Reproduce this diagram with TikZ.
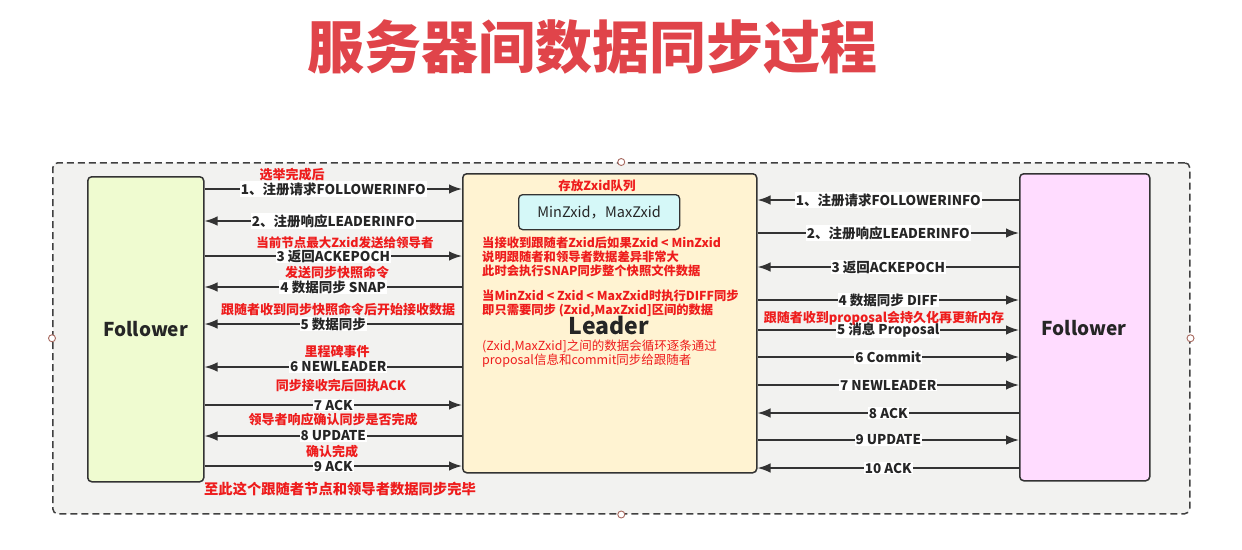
\documentclass[tikz,border=0pt]{standalone}
\usepackage{fontspec}
\setmainfont{Noto Sans CJK SC}
\usetikzlibrary{arrows.meta}
\definecolor{redc}{HTML}{EE1C1C}
\definecolor{titlec}{HTML}{E0444A}
\definecolor{outerfill}{HTML}{F2F2F0}
\definecolor{lfill}{HTML}{EFFBD0}
\definecolor{rfill}{HTML}{FFDCFF}
\definecolor{ldfill}{HTML}{FFF3D2}
\definecolor{cyanfill}{HTML}{D5F8F8}
\definecolor{linec}{HTML}{333333}
\definecolor{dotc}{HTML}{A86A60}
\begin{document}
\begin{tikzpicture}[x=1pt,y=-1pt,
  box/.style={draw=linec, line width=1.5pt, rounded corners=4pt, inner sep=0pt},
  arr/.style={draw=linec, line width=1.6pt, -{Latex[length=13pt,width=9.5pt]}},
  lbl/.style={fill=white, inner sep=1pt, text=black!85, font=\fontsize{13.5}{15}\selectfont\bfseries},
  rtxt/.style={text=redc, inner sep=0pt, font=\fontsize{13}{14}\selectfont\bfseries},
  dot/.style={circle, draw=dotc, fill=white, line width=0.9pt, inner sep=0pt, minimum size=7pt},
  bigtxt/.style={text=black!85, font=\fontsize{19}{22}\selectfont\bfseries}
]
\useasboundingbox (0,0) rectangle (1242,549);
\fill[white] (0,0) rectangle (1242,549);

% title
\node[text=titlec, font=\fontsize{57}{60}\selectfont\bfseries, inner sep=0pt] (title) at (592,47) {服务器间数据同步过程};

% outer dashed container
\node[draw=black!75, dashed, dash pattern=on 7pt off 4pt, line width=1.5pt, fill=outerfill, rounded corners=5pt,
      minimum width=1137pt, minimum height=351pt, anchor=north west, inner sep=0pt] (outer) at (52,162) {};
\node[dot] (d1) at (outer.north) {};
\node[dot] (d2) at (outer.south) {};
\node[dot] (d3) at (outer.west) {};
\node[dot] (d4) at (outer.east) {};

% boxes
\node[box, fill=lfill, minimum width=116pt, minimum height=305pt, anchor=north west] (lf) at (87,176) {};
\node[bigtxt] (lft) at (lf.center) {Follower};
\node[box, fill=ldfill, minimum width=294pt, minimum height=299pt, anchor=north west] (ld) at (462,173) {};
\node[bigtxt, font=\fontsize{23}{26}\selectfont\bfseries] (ldt) at (609,325) {Leader};
\node[box, fill=rfill, minimum width=130pt, minimum height=307pt, anchor=north west] (rf) at (1019,173) {};
\node[bigtxt] (rft) at (1084,328) {Follower};
\node[box, fill=cyanfill, minimum width=161pt, minimum height=35pt, anchor=north west, line width=1.3pt] (q) at (518,194) {};
\node[text=black!85, font=\fontsize{14.5}{16}\selectfont] (qt) at (q.center) {MinZxid，MaxZxid};

% leader texts
\node[rtxt, font=\fontsize{12.5}{14}\selectfont\bfseries] (lq) at (597,186) {存放Zxid队列};
\node[rtxt, anchor=north west, align=left, font=\fontsize{12.3}{13.8}\selectfont\bfseries] (lt1) at (482,237)
  {当接收到跟随者Zxid后如果Zxid < MinZxid\\说明跟随者和领导者数据差异非常大\\此时会执行SNAP同步整个快照文件数据};
\node[rtxt, anchor=north west, align=left, font=\fontsize{12.3}{13.5}\selectfont\bfseries] (lt2) at (482,290)
  {当MinZxid < Zxid < MaxZxid时执行DIFF同步\\即只需要同步 (Zxid,MaxZxid]区间的数据};
\node[rtxt, anchor=north west, align=left, font=\fontsize{12.5}{14}\selectfont] (lt3) at (482,340)
  {(Zxid,MaxZxid]之间的数据会循环逐条通过\\proposal信息和commit同步给跟随者};

% left arrows
\draw[arr] (lf.east |- 0,189) -- node[lbl] (l1) {1、注册请求FOLLOWERINFO} (ld.west |- 0,189);
\draw[arr] (ld.west |- 0,221) -- node[lbl] (l2) {2、注册响应LEADERINFO} (lf.east |- 0,221);
\draw[arr] (lf.east |- 0,256) -- node[lbl] (l3) {3 返回ACKEPOCH} (ld.west |- 0,256);
\draw[arr] (ld.west |- 0,287) -- node[lbl] (l4) {4 数据同步 SNAP} (lf.east |- 0,287);
\draw[arr] (ld.west |- 0,324) -- node[lbl] (l5) {5 数据同步} (lf.east |- 0,324);
\draw[arr] (ld.west |- 0,367) -- node[lbl, xshift=5pt] (l6) {6 NEWLEADER} (lf.east |- 0,367);
\draw[arr] (lf.east |- 0,405) -- node[lbl] (l7) {7 ACK} (ld.west |- 0,405);
\draw[arr] (ld.west |- 0,436) -- node[lbl] (l8) {8 UPDATE} (lf.east |- 0,436);
\draw[arr] (lf.east |- 0,466) -- node[lbl] (l9) {9 ACK} (ld.west |- 0,466);

% left red notes
\node[rtxt] (n1) at (292,175) {选举完成后};
\node[rtxt, font=\fontsize{12.5}{14}\selectfont\bfseries] (n3) at (345,243) {当前节点最大Zxid发送给领导者};
\node[rtxt] (n4) at (337,273) {发送同步快照命令};
\node[rtxt] (n5) at (338,309) {跟随者收到同步快照命令后开始接收数据};
\node[rtxt] (n6) at (337,352) {里程碑事件};
\node[rtxt] (n7) at (341,386) {同步接收完后回执ACK};
\node[rtxt] (n8) at (333,420) {领导者响应确认同步是否完成};
\node[rtxt] (n9) at (332,452) {确认完成};
\node[rtxt, font=\fontsize{14.3}{16}\selectfont\bfseries] (n10) at (340,489) {至此这个跟随者节点和领导者数据同步完毕};

% right arrows
\draw[arr] (rf.west |- 0,200) -- node[lbl] (r1) {1、注册请求FOLLOWERINFO} (ld.east |- 0,200);
\draw[arr] (ld.east |- 0,233) -- node[lbl] (r2) {2、注册响应LEADERINFO} (rf.west |- 0,233);
\draw[arr] (rf.west |- 0,267) -- node[lbl] (r3) {3 返回ACKEPOCH} (ld.east |- 0,267);
\draw[arr] (ld.east |- 0,300) -- node[lbl] (r4) {4 数据同步 DIFF} (rf.west |- 0,300);
\draw[arr] (ld.east |- 0,330) -- node[lbl] (r5) {5 消息 Proposal} (rf.west |- 0,330);
\draw[arr] (ld.east |- 0,357) -- node[lbl] (r6) {6 Commit} (rf.west |- 0,357);
\draw[arr] (ld.east |- 0,385) -- node[lbl] (r7) {7 NEWLEADER} (rf.west |- 0,385);
\draw[arr] (rf.west |- 0,413) -- node[lbl] (r8) {8 ACK} (ld.east |- 0,413);
\draw[arr] (ld.east |- 0,440) -- node[lbl] (r9) {9 UPDATE} (rf.west |- 0,440);
\draw[arr] (rf.west |- 0,468) -- node[lbl] (r10) {10 ACK} (ld.east |- 0,468);

\node[rtxt] (rn) at (884,318) {跟随者收到proposal会持久化再更新内存};
\end{tikzpicture}
\end{document}
